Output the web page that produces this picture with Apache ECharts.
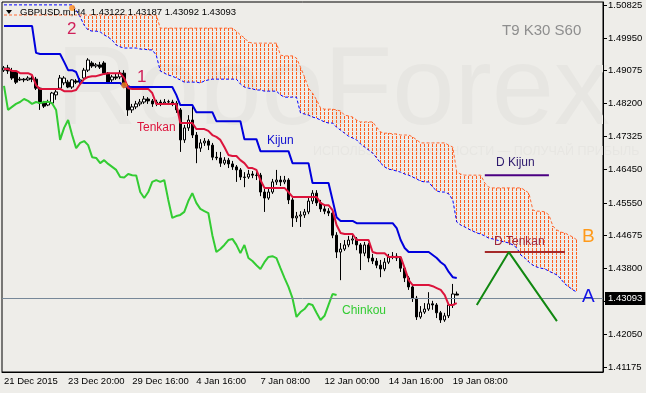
<!DOCTYPE html>
<html><head><meta charset="utf-8">
<script src="https://cdn.jsdelivr.net/npm/echarts@6/dist/echarts.min.js"></script>
<style>html,body{margin:0;padding:0;background:#eeede9;}#c{width:646px;height:393px;}</style>
</head><body><div id="c"></div>
<script>
// ---- data (GBPUSD H4) ----
const barCount = 150;
const xTickLabels = ["21 Dec 2015","23 Dec 20:00","29 Dec 16:00","4 Jan 16:00","7 Jan 08:00","12 Jan 00:00","14 Jan 16:00","19 Jan 08:00"];
const xTickStep = 16;
const yTicks = [1.41175,1.42050,1.42925,1.43800,1.44675,1.45550,1.46450,1.47325,1.48200,1.49075,1.49950,1.50825];
const yMin = 1.41042, yMax = 1.50907;

const barOpen = [1.4909,1.4915,1.4907,1.4904,1.4883,1.4885,1.4883,1.4888,1.4885,1.4861,
1.4821,1.4816,1.4821,1.4843,1.4861,1.4875,1.4877,1.4864,1.4880,1.4877,
1.4888,1.4909,1.4928,1.4920,1.4923,1.4928,1.4901,1.4883,1.4891,1.4891,
1.4901,1.4867,1.4803,1.4811,1.4819,1.4824,1.4832,1.4827,1.4819,1.4824,
1.4821,1.4824,1.4824,1.4821,1.4803,1.4723,1.4755,1.4776,1.4736,1.4701,
1.4715,1.4720,1.4709,1.4677,1.4675,1.4661,1.4669,1.4659,1.4651,1.4643,
1.4624,1.4624,1.4632,1.4629,1.4629,1.4584,1.4568,1.4584,1.4611,1.4616,
1.4611,1.4616,1.4563,1.4515,1.4520,1.4523,1.4531,1.4560,1.4581,1.4555,
1.4539,1.4533,1.4528,1.4469,1.4424,1.4432,1.4443,1.4456,1.4459,1.4443,
1.4421,1.4443,1.4408,1.4400,1.4389,1.4379,1.4397,1.4411,1.4413,1.4408,
1.4381,1.4355,1.4331,1.4301,1.4251,1.4264,1.4272,1.4286,1.4283,1.4262,
1.4243,1.4254,1.4283,1.43122];
const barClose = [1.4915,1.4907,1.4888,1.4877,1.4885,1.4883,1.4888,1.4885,1.4861,1.4821,
1.4813,1.4824,1.4848,1.4851,1.4888,1.4888,1.4864,1.4883,1.4877,1.4883,
1.4909,1.4936,1.4920,1.4923,1.4917,1.4901,1.4877,1.4891,1.4888,1.4901,
1.4867,1.4803,1.4811,1.4819,1.4824,1.4832,1.4827,1.4819,1.4824,1.4821,
1.4824,1.4825,1.4821,1.4803,1.4723,1.4755,1.4776,1.4736,1.4701,1.4715,
1.4720,1.4709,1.4677,1.4675,1.4661,1.4669,1.4659,1.4651,1.4643,1.4624,
1.4623,1.4632,1.4629,1.4628,1.4584,1.4568,1.4584,1.4611,1.4616,1.4611,
1.4616,1.4563,1.4515,1.4520,1.4523,1.4531,1.4560,1.4581,1.4555,1.4539,
1.4533,1.4528,1.4469,1.4424,1.4432,1.4443,1.4456,1.4459,1.4443,1.4421,
1.4443,1.4408,1.4400,1.4389,1.4379,1.4397,1.4411,1.4413,1.4408,1.4381,
1.4355,1.4331,1.4301,1.4251,1.4264,1.4272,1.4286,1.4283,1.4262,1.4243,
1.4254,1.4283,1.43122,1.43093];
const barHigh = [1.4920,1.4923,1.4915,1.4909,1.4891,1.4888,1.4893,1.4893,1.4891,1.4864,
1.4827,1.4830,1.4851,1.4861,1.4896,1.4893,1.4883,1.4885,1.4885,1.4888,
1.4915,1.4941,1.4933,1.4928,1.4931,1.4933,1.4904,1.4896,1.4899,1.4909,
1.4909,1.4872,1.4819,1.4827,1.4832,1.4840,1.4837,1.4832,1.4830,1.4830,
1.4832,1.4830,1.4830,1.4827,1.4808,1.4763,1.4789,1.4811,1.4744,1.4725,
1.4728,1.4725,1.4715,1.4691,1.4691,1.4677,1.4675,1.4667,1.4656,1.4648,
1.4637,1.4643,1.4640,1.4637,1.4635,1.4592,1.4595,1.4619,1.4643,1.4627,
1.4627,1.4621,1.4568,1.4531,1.4533,1.4539,1.4568,1.4589,1.4589,1.4563,
1.4547,1.4541,1.4533,1.4477,1.4448,1.4456,1.4467,1.4469,1.4464,1.4448,
1.4451,1.4448,1.4419,1.4408,1.4403,1.4408,1.4419,1.4424,1.4421,1.4413,
1.4387,1.4360,1.4336,1.4307,1.4280,1.4288,1.4317,1.4294,1.4288,1.4267,
1.4262,1.4288,1.4339,1.43187];
const barLow = [1.4904,1.4899,1.4883,1.4872,1.4880,1.4877,1.4880,1.4877,1.4856,1.4803,
1.4808,1.4813,1.4819,1.4830,1.4856,1.4869,1.4861,1.4859,1.4872,1.4872,
1.4883,1.4904,1.4915,1.4915,1.4912,1.4899,1.4872,1.4877,1.4883,1.4885,
1.4861,1.4787,1.4795,1.4805,1.4813,1.4819,1.4819,1.4811,1.4813,1.4813,
1.4816,1.4816,1.4813,1.4795,1.4691,1.4715,1.4747,1.4728,1.4661,1.4691,
1.4707,1.4696,1.4669,1.4669,1.4651,1.4656,1.4648,1.4643,1.4611,1.4616,
1.4597,1.4619,1.4621,1.4616,1.4573,1.4531,1.4563,1.4579,1.4603,1.4600,
1.4605,1.4552,1.4491,1.4504,1.4491,1.4515,1.4525,1.4552,1.4547,1.4531,
1.4525,1.4520,1.4461,1.4408,1.4349,1.4427,1.4437,1.4445,1.4429,1.4376,
1.4413,1.4397,1.4392,1.4381,1.4357,1.4373,1.4392,1.4405,1.4400,1.4371,
1.4344,1.4323,1.4291,1.4243,1.4246,1.4259,1.4267,1.4270,1.4248,1.4235,
1.4238,1.4248,1.4275,1.43092];

const tenkan = [1.4912,1.4912,1.4907,1.4907,1.4901,1.4901,1.4901,1.4896,1.4869,1.4859,
1.4859,1.4859,1.4859,1.4859,1.4859,1.4853,1.4853,1.4853,1.4856,1.4872,
1.4885,1.4891,1.4893,1.4893,1.4896,1.4899,1.4901,1.4901,1.4901,1.4901,
1.4888,1.4861,1.4859,1.4859,1.4859,1.4859,1.4859,1.4848,1.4819,1.4819,
1.4819,1.4819,1.4819,1.4819,1.4768,1.4768,1.4768,1.4768,1.4752,1.4752,
1.4752,1.4747,1.4736,1.4731,1.4723,1.4704,1.4683,1.4680,1.4680,1.4669,
1.4661,1.4648,1.4648,1.4643,1.4616,1.4595,1.4595,1.4595,1.4595,1.4595,
1.4595,1.4584,1.4571,1.4571,1.4571,1.4571,1.4571,1.4571,1.4571,1.4555,
1.4549,1.4549,1.4536,1.4496,1.4475,1.4472,1.4472,1.4472,1.4456,1.4456,
1.4456,1.4456,1.4424,1.4421,1.4421,1.4421,1.4411,1.4411,1.4411,1.4411,
1.4381,1.4349,1.4336,1.4336,1.4336,1.4336,1.4336,1.4333,1.4328,1.4323,
1.4309,1.4283,1.4283,1.4288];
const kijun = [1.5027,1.5027,1.5027,1.5027,1.5027,1.5027,1.5027,1.5027,1.4955,1.4952,
1.4952,1.4952,1.4952,1.4952,1.4952,1.4931,1.4909,1.4909,1.4904,1.4877,
1.4875,1.4875,1.4875,1.4875,1.4875,1.4875,1.4875,1.4875,1.4875,1.4875,
1.4864,1.4864,1.4864,1.4864,1.4864,1.4864,1.4864,1.4864,1.4864,1.4864,
1.4864,1.4864,1.4864,1.4843,1.4816,1.4816,1.4816,1.4816,1.4797,1.4797,
1.4797,1.4797,1.4797,1.4773,1.4773,1.4773,1.4773,1.4773,1.4773,1.4773,
1.4725,1.4725,1.4725,1.4725,1.4693,1.4693,1.4693,1.4693,1.4693,1.4693,
1.4693,1.4693,1.4661,1.4661,1.4661,1.4661,1.4661,1.4608,1.4608,1.4608,
1.4608,1.4608,1.4563,1.4517,1.4507,1.4507,1.4507,1.4507,1.4501,1.4501,
1.4501,1.4501,1.4501,1.4501,1.4501,1.4501,1.4501,1.4501,1.4488,1.4456,
1.4435,1.4424,1.4424,1.4424,1.4424,1.4424,1.4424,1.4416,1.4408,1.4397,
1.4389,1.4371,1.4357,1.4355];
const senkouA = [1.5083,1.5083,1.5083,1.5083,1.5083,1.5083,1.5083,1.5083,1.5083,1.5083,
1.5083,1.5083,1.5083,1.5083,1.5083,1.5083,1.5083,1.5083,1.5069,1.5051,
1.5029,1.5016,1.5013,1.5013,1.5011,1.5003,1.4997,1.4989,1.4976,1.4971,
1.4968,1.4968,1.4968,1.4968,1.4965,1.4965,1.4963,1.4963,1.4949,1.4907,
1.4901,1.4896,1.4893,1.4888,1.4883,1.4877,1.4877,1.4877,1.4877,1.4875,
1.4880,1.4883,1.4885,1.4885,1.4885,1.4885,1.4885,1.4885,1.4885,1.4872,
1.4864,1.4861,1.4859,1.4856,1.4856,1.4853,1.4853,1.4853,1.4853,1.4843,
1.4837,1.4837,1.4837,1.4837,1.4795,1.4792,1.4789,1.4784,1.4781,1.4776,
1.4771,1.4768,1.4768,1.4757,1.4749,1.4741,1.4733,1.4728,1.4723,1.4712,
1.4704,1.4696,1.4688,1.4675,1.4661,1.4651,1.4645,1.4643,1.4640,1.4637,
1.4632,1.4629,1.4624,1.4619,1.4613,1.4611,1.4611,1.4597,1.4587,1.4584,
1.4584,1.4579,1.4563,1.4504,1.4496,1.4491,1.4485,1.4480,1.4475,1.4472,
1.4467,1.4461,1.4459,1.4456,1.4453,1.4451,1.4448,1.4443,1.4435,1.4416,
1.4408,1.4397,1.4389,1.4384,1.4381,1.4379,1.4373,1.4368,1.4363,1.4352,
1.4339,1.4331,1.4323,1.4317];
const senkouB = [1.5056,1.5056,1.5056,1.5056,1.5056,1.5056,1.5056,1.5056,1.5056,1.5056,
1.5056,1.5056,1.5056,1.5056,1.5056,1.5056,1.5056,1.5056,1.5056,1.5056,
1.5056,1.5056,1.5056,1.5056,1.5056,1.5056,1.5056,1.5056,1.5056,1.5056,
1.5056,1.5056,1.5056,1.5056,1.5056,1.5056,1.5056,1.5056,1.5056,1.5021,
1.5021,1.5021,1.5021,1.5021,1.5021,1.5021,1.5021,1.5021,1.5021,1.5021,
1.5021,1.5021,1.5021,1.5021,1.5021,1.5021,1.5021,1.5021,1.5013,1.5003,
1.4995,1.4984,1.4981,1.4981,1.4981,1.4981,1.4981,1.4981,1.4981,1.4949,
1.4947,1.4947,1.4947,1.4941,1.4917,1.4891,1.4861,1.4848,1.4830,1.4808,
1.4805,1.4805,1.4805,1.4803,1.4800,1.4789,1.4787,1.4784,1.4776,1.4771,
1.4771,1.4771,1.4771,1.4757,1.4744,1.4741,1.4741,1.4739,1.4739,1.4736,
1.4736,1.4736,1.4731,1.4723,1.4715,1.4715,1.4715,1.4715,1.4715,1.4715,
1.4715,1.4709,1.4704,1.4637,1.4632,1.4629,1.4629,1.4629,1.4629,1.4629,
1.4608,1.4597,1.4595,1.4595,1.4595,1.4595,1.4595,1.4595,1.4595,1.4595,
1.4589,1.4581,1.4536,1.4533,1.4533,1.4531,1.4523,1.4493,1.4483,1.4477,
1.4475,1.4469,1.4464,1.4456];
const chinkouShift = 30;
const currentPrice = 1.43093;
const dKijun = [[120,1.4629],[136,1.4629]];
const dTenkan = [[120,1.4424],[140,1.4424]];
const zigzag = [[118,1.4283],[126,1.4424],[138,1.4240]];
const markers = [[17,1.5075],[29.5,1.4869]];
const titleText = "GBPUSD.m,H4  1.43122 1.43187 1.43092 1.43093";

// ---- build ----
const categories = Array.from({length: barCount}, (_, i) => String(i));
const candles = barOpen.map((o, i) => [o, barClose[i], barLow[i], barHigh[i]]);
const chinkou = barClose.slice(chinkouShift);
const kumo = senkouA.map((a, i) => [i, a, senkouB[i]]);

const FONT = '"Liberation Sans", Arial, sans-serif';
const tickShow = (idx) => idx % xTickStep === 0 && (idx / xTickStep) < xTickLabels.length;
const HATCH = [3, 1];
const HATCH_PERIOD = HATCH[0] + HATCH[1];
const HATCH_STEP = 4;

const chart = echarts.init(document.getElementById('c'), null, {renderer: 'canvas'});
const txt = (x, y, text, size, color, extra) => Object.assign({
  type: 'text', x: x, y: y, z: 100, silent: true,
  style: {text: text, fontSize: size, fontFamily: FONT, fill: color, textVerticalAlign: 'middle', textAlign: 'left'}
}, extra || {});

chart.setOption({
  animation: false,
  backgroundColor: '#eeede9',
  grid: {left: 2, right: 43, top: 2, bottom: 21, show: true, borderColor: '#000', borderWidth: 1, backgroundColor: 'transparent'},
  xAxis: {
    type: 'category', data: categories, boundaryGap: true,
    axisLine: {lineStyle: {color: '#000', width: 1}},
    axisTick: {interval: tickShow, alignWithLabel: true, length: 4, lineStyle: {color: '#000'}},
    axisLabel: {interval: tickShow, formatter: (v, idx) => xTickLabels[idx / xTickStep] || '', align: 'left', margin: 4, color: '#000', fontSize: 9.5, fontFamily: FONT},
    splitLine: {show: false}
  },
  yAxis: {
    type: 'value', position: 'right', min: yMin, max: yMax, scale: true,
    axisLine: {show: true, lineStyle: {color: '#000', width: 1}},
    axisTick: {show: true, length: 4, customValues: yTicks, lineStyle: {color: '#000'}},
    axisLabel: {customValues: yTicks, formatter: (v) => v.toFixed(5), color: '#000', fontSize: 9.5, fontFamily: FONT, margin: 5},
    splitLine: {show: false}
  },
  graphic: [
    {type: 'text', x: 56, y: 37, z: 0, silent: true, style: {text: 'RoboForex', fontSize: 112, fontFamily: FONT, fill: '#e7e6e2', textVerticalAlign: 'top'}},
    {type: 'text', x: 313, y: 152, z: 0, silent: true, style: {text: 'ИСПОЛЬЗУЙ ВОЗМОЖНОСТИ — ПОЛУЧАЙ ПРИБЫЛЬ', fontSize: 12.5, fontFamily: FONT, fill: '#e7e6e2', textVerticalAlign: 'middle'}},
    {type: 'polygon', z: 100, silent: true, shape: {points: [[6,10],[12,10],[9,14]]}, style: {fill: '#000'}},
    txt(20, 12, titleText, 9.5, '#000'),
    txt(502, 31, 'T9 K30 S60', 15, '#8e8e8e'),
    txt(137, 128, 'Tenkan', 12, '#dc143c'),
    txt(267, 141, 'Kijun', 12, '#1010d0'),
    txt(342, 311, 'Chinkou', 12, '#33cc33'),
    txt(496, 163, 'D Kijun', 12, '#2e1a6e'),
    txt(494, 242, 'D Tenkan', 12, '#a0283c'),
    txt(582, 237, 'B', 19, '#ff9a1a'),
    txt(582, 297, 'A', 19, '#1414e6'),
    txt(137, 77, '1', 17, '#d0205a'),
    txt(67, 29, '2', 17, '#d0205a')
  ],
  series: [
    {name: 'Kumo', type: 'custom', data: kumo, clip: true, silent: true, z: 1,
      encode: {x: 0, y: [1, 2]},
      renderItem: (params, api) => {
        const a = api.value(1), b = api.value(2);
        if (!(b > a)) return null;
        const top = api.coord([api.value(0), b]);
        const bot = api.coord([api.value(0), a]);
        const x = Math.round(top[0] / HATCH_STEP) * HATCH_STEP + 0.5;
        const y1 = Math.round(top[1]);
        return {type: 'line', shape: {x1: x, y1: y1, x2: x, y2: Math.round(bot[1])},
          style: {stroke: '#ff5f1f', lineWidth: 1, lineDash: HATCH, lineDashOffset: y1 % HATCH_PERIOD}};
      }},
    {name: 'Senkou A', type: 'line', data: senkouA, showSymbol: false, lineStyle: {color: '#0000ff', width: 1, type: [3, 2]}, z: 2},
    {name: 'Senkou B', type: 'line', data: senkouB, showSymbol: false, lineStyle: {color: '#ff6a33', width: 1, type: [3, 2]}, z: 2},
    {name: 'Candles', type: 'candlestick', data: candles, barWidth: 3, z: 3,
      itemStyle: {color: '#ffffff', color0: '#000000', borderColor: '#000000', borderColor0: '#000000', borderWidth: 1},
      markLine: {symbol: 'none', silent: true, animation: false,
        lineStyle: {color: '#778899', width: 1, type: 'solid'},
        label: {position: 'end', formatter: currentPrice.toFixed(5), backgroundColor: '#000', color: '#fff', fontSize: 9.5, fontFamily: FONT, padding: [2, 3, 1, 3], distance: 2},
        data: [{yAxis: currentPrice}]}},
    {name: 'Chinkou', type: 'line', data: chinkou, showSymbol: false, lineStyle: {color: '#33cc33', width: 2}, z: 4},
    {name: 'Kijun', type: 'line', data: kijun, showSymbol: false, lineStyle: {color: '#0000dd', width: 2}, z: 4},
    {name: 'Tenkan', type: 'line', data: tenkan, showSymbol: false, lineStyle: {color: '#dc143c', width: 2}, z: 5},
    {name: 'D Kijun', type: 'line', data: dKijun, showSymbol: false, lineStyle: {color: '#4b0082', width: 2}, z: 5},
    {name: 'D Tenkan', type: 'line', data: dTenkan, showSymbol: false, lineStyle: {color: '#a52a2a', width: 2}, z: 5},
    {name: 'Zigzag', type: 'line', data: zigzag, showSymbol: false, lineStyle: {color: '#118811', width: 2}, z: 5},
    {name: 'Markers', type: 'scatter', data: markers, symbolSize: 6, itemStyle: {color: '#ff8c1a'}, z: 6}
  ]
});
</script></body></html>
